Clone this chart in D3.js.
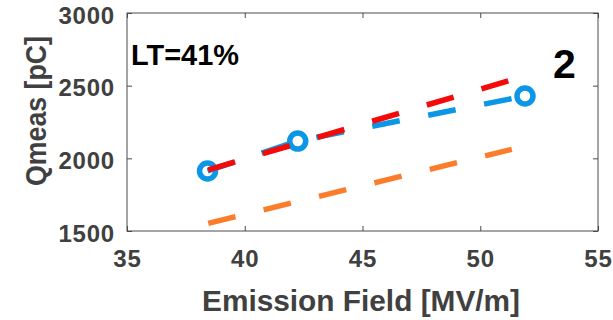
<!DOCTYPE html>
<html>
<head>
<meta charset="utf-8">
<script src="https://cdn.jsdelivr.net/npm/d3@7"></script>
<style>
  html, body { margin: 0; padding: 0; background: #fff; }
  svg { display: block; }
</style>
</head>
<body>
<script>
// ---- data ----
const xTicks = [35, 40, 45, 50, 55];
const yTicks = [1500, 2000, 2500, 3000];
const blueX = [38.42, 42.25, 51.9];
const blueY = [1913, 2119, 2429];
const redX = [38.45, 51.2];
const redY = [1920, 2534];
const orangeX = [38.45, 51.34];
const orangeY = [1553, 2062];
const xLabel = "Emission Field [MV/m]";
const yLabel = "Qmeas [pC]";
const annotLT = "LT=41%";
const annotNum = "2";

const W = 613, H = 320;
const m = { left: 127, right: 598, top: 13, bottom: 231 };

const svg = d3.select("body").append("svg").attr("width", W).attr("height", H);

const x = d3.scaleLinear().domain([35, 55]).range([m.left, m.right]);
const y = d3.scaleLinear().domain([1500, 3000]).range([m.bottom, m.top]);

const axisColor = "#4a4a4a";
const textColor = "#404040";
const font = "'Liberation Sans', Arial, sans-serif";

// frame
svg.append("rect")
  .attr("x", m.left).attr("y", m.top)
  .attr("width", m.right - m.left).attr("height", m.bottom - m.top)
  .attr("fill", "none").attr("stroke", axisColor).attr("stroke-width", 1);

// axes
const fmt = d3.format("d");
const gx = svg.append("g").attr("transform", `translate(0,${m.bottom})`)
  .call(d3.axisBottom(x).tickValues(xTicks).tickFormat(fmt).tickSizeInner(-5).tickSizeOuter(0).tickPadding(19));
const gy = svg.append("g").attr("transform", `translate(${m.left},0)`)
  .call(d3.axisLeft(y).tickValues(yTicks).tickFormat(fmt).tickSizeInner(-5).tickSizeOuter(0).tickPadding(12));
const gxt = svg.append("g").attr("transform", `translate(0,${m.top})`)
  .call(d3.axisTop(x).tickValues(xTicks).tickSizeInner(-5).tickSizeOuter(0).tickFormat(""));
const gyr = svg.append("g").attr("transform", `translate(${m.right},0)`)
  .call(d3.axisRight(y).tickValues(yTicks).tickSizeInner(-5).tickSizeOuter(0).tickFormat(""));

[gx, gy, gxt, gyr].forEach(g => {
  g.select(".domain").remove();
  g.selectAll(".tick line").attr("stroke", axisColor);
  g.selectAll("text")
    .attr("fill", textColor)
    .style("font-family", font)
    .style("font-size", "24px")
    .style("font-weight", "bold")
    .style("letter-spacing", "0.8px");
});
gy.selectAll("text").attr("dy", "0.42em");

// lines
const lineGen = d3.line().x(d => x(d[0])).y(d => y(d[1]));
const blueData = blueX.map((v, i) => [v, blueY[i]]);
const redData = redX.map((v, i) => [v, redY[i]]);
const orangeData = orangeX.map((v, i) => [v, orangeY[i]]);

const plot = svg.append("g");
const dash = "28,29";

plot.append("path").datum(blueData).attr("d", lineGen)
  .attr("fill", "none").attr("stroke", "#0b97e6").attr("stroke-width", 5.5)
  .attr("stroke-dasharray", dash);
plot.selectAll("circle.b").data(blueData).enter().append("circle")
  .attr("class", "b")
  .attr("cx", d => x(d[0])).attr("cy", d => y(d[1])).attr("r", 8)
  .attr("fill", "none").attr("stroke", "#0b97e6").attr("stroke-width", 5.5);
plot.append("path").datum(orangeData).attr("d", lineGen)
  .attr("fill", "none").attr("stroke", "#fb7d2c").attr("stroke-width", 5.5)
  .attr("stroke-dasharray", dash);
plot.append("path").datum(redData).attr("d", lineGen)
  .attr("fill", "none").attr("stroke", "#f50a0a").attr("stroke-width", 5.5)
  .attr("stroke-dasharray", dash);

// annotations
svg.append("text").text(annotLT)
  .attr("x", 131).attr("y", 65)
  .attr("fill", "#000").style("font-family", font)
  .style("font-size", "30px").style("font-weight", "bold")
  .attr("textLength", 108).attr("lengthAdjust", "spacingAndGlyphs");
svg.append("text").text(annotNum)
  .attr("x", 553).attr("y", 78)
  .attr("fill", "#000").style("font-family", font)
  .style("font-size", "41px").style("font-weight", "bold");

// axis labels
svg.append("text").text(xLabel)
  .attr("x", 361).attr("y", 311).attr("text-anchor", "middle")
  .attr("fill", textColor).style("font-family", font)
  .style("font-size", "29px").style("font-weight", "bold")
  .attr("textLength", 318).attr("lengthAdjust", "spacingAndGlyphs");
svg.append("text").text(yLabel)
  .attr("transform", "translate(46,111) rotate(-90)")
  .attr("text-anchor", "middle")
  .attr("fill", textColor).style("font-family", font)
  .style("font-size", "29px").style("font-weight", "bold")
  .attr("textLength", 150).attr("lengthAdjust", "spacingAndGlyphs");
</script>
</body>
</html>
